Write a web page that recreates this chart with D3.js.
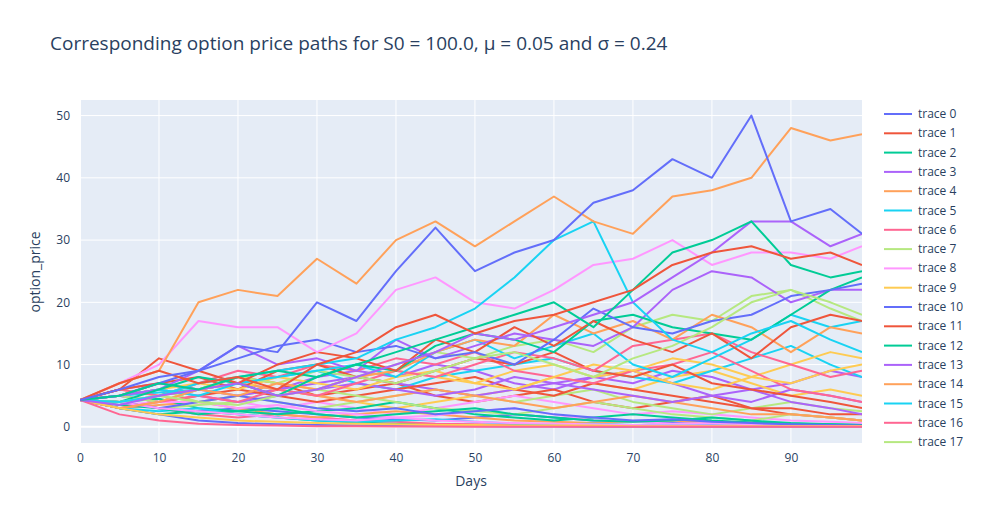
<!DOCTYPE html>
<html>
<head>
<script src="https://cdn.jsdelivr.net/npm/d3@7"></script>
<style>
  body { margin: 0; background: #fff; font-family: "Open Sans", Arial, sans-serif; }
  text { fill: #2a3f5f; }
</style>
</head>
<body>
<svg id="chart" width="985" height="525"></svg>
<script>
// sample days (every 5 days + last day)
var days = [0,5,10,15,20,25,30,35,40,45,50,55,60,65,70,75,80,85,90,95,99];

// option price paths
var traces = [
  [4.3,6,8,9,13,12,20,17,25,32,25,28,30,36,38,43,40,50,33,35,31],
  [4.3,7,9,7,8,6,10,12,16,18,15,17,18,20,22,26,28,29,27,28,26],
  [4.3,5,7,6,8,9,8,10,12,14,16,18,20,16,22,28,30,33,26,24,25],
  [4.3,3.5,5,6,7,5,6,8,10,12,15,14,16,18,20,24,28,33,33,29,31],
  [4.3,7,9,20,22,21,27,23,30,33,29,33,37,33,31,37,38,40,48,46,47],
  [4.3,4,5,7,8,9,10,11,14,16,19,24,30,33,20,14,12,15,17,14,12],
  [4.3,2,1,0.5,0.3,0.2,0.1,0.1,0.05,0.05,0,0,0,0,0,0,0,0,0,0,0],
  [4.3,4,5,4,3.5,5,6,8,7,9,11,12,10,8,11,13,16,20,22,20,18],
  [4.3,7,10,17,16,16,12,15,22,24,20,19,22,26,27,30,26,28,28,27,29],
  [4.3,3,2,1.5,1,0.8,0.6,0.5,0.4,0.3,0.3,0.2,0.2,0.2,0.1,0.1,0.1,0.1,0.1,0.1,0.1],
  [4.3,5,7,9,11,13,14,12,13,11,12,10,14,19,16,15,17,18,21,22,23],
  [4.3,6,11,9,7,10,12,11,9,14,12,16,13,17,14,12,15,11,16,18,17],
  [4.3,4,6,8,7,5,8,10,9,13,15,14,12,17,18,16,15,14,18,22,24],
  [4.3,5,6,9,13,10,11,9,14,11,13,15,14,13,16,22,25,24,20,22,22],
  [4.3,3,4,6,5,7,6,8,9,12,14,13,18,15,17,14,18,16,12,16,15],
  [4.3,5,6,5,7,8,9,10,8,12,14,11,13,15,10,8,11,14,18,16,17],
  [4.3,3,4,5,4,6,5,7,9,8,10,12,11,9,13,14,15,12,10,8,9],
  [4.3,5,4,6,8,7,9,8,10,12,11,13,14,12,16,18,17,21,22,19,17],
  [4.3,4,3,2.5,2,1.5,1.2,1,1.5,1,0.8,0.6,0.5,0.4,0.3,0.2,0.2,0.1,0.1,0.1,0.1],
  [4.3,5,6,7,6,8,7,6,8,9,7,6,8,10,9,11,10,8,7,9,10],
  [4.3,4,3,4,5,4,3,2.5,3,2,2.5,3,2,1.5,1,1.2,0.8,0.6,0.4,0.3,0.2],
  [4.3,6,7,8,6,9,10,8,7,9,11,10,12,9,8,10,7,6,5,4,3],
  [4.3,3.5,3,2,2.5,3,2,1.5,2,2.5,3,2,1.5,1,0.8,1,1.5,1,0.6,0.4,0.3],
  [4.3,5,6,5,4,5,6,7,6,5,6,8,7,6,5,4,5,6,4,3,2],
  [4.3,4,5,6,7,6,5,4,5,6,5,4,3,4,5,4,3,2,2,1.5,1],
  [4.3,3,2.5,3,2,1.5,1,0.8,1,1.2,0.8,0.5,0.4,0.5,0.3,0.2,0.2,0.1,0.1,0.1,0.1],
  [4.3,6,5,7,9,8,10,9,11,10,12,9,8,7,9,10,12,9,6,5,4],
  [4.3,4,3,3.5,4,5,6,5,4,3,2.5,2,3,4,3,2,1.5,1,2,1.5,1],
  [4.3,5,4,4,3,3.5,2.5,2,1.5,1.8,2.5,3,2,1,0.8,0.5,0.6,0.4,0.3,0.2,0.2],
  [4.3,4,5,7,8,7,6,8,9,8,7,9,10,8,9,7,6,8,10,12,11],
  [4.3,3,2,1,0.6,0.4,0.3,0.2,0.15,0.1,0.1,0.05,0.05,0,0,0,0,0,0,0,0],
  [4.3,5,4,5,6,5,4,5,6,7,8,6,5,7,6,5,4,3,3,2,2],
  [4.3,4,4.5,3,2.5,2,2.5,3,4,3,2,1.5,1,1.5,2,1.5,1,0.7,0.5,0.4,0.3],
  [4.3,6,7,6,5,6,7,8,7,6,5,6,7,8,9,7,5,4,6,5,4],
  [4.3,3,3.5,4,3,2,1.5,2,2.5,2,1.5,1,0.8,0.6,0.8,1,0.6,0.4,0.3,0.2,0.1],
  [4.3,5,5.5,6,7,8,9,7,6,8,9,10,11,9,8,7,9,11,13,10,8],
  [4.3,4,3,2,1.5,2,1.5,1,0.8,0.5,0.4,0.3,0.25,0.2,0.15,0.1,0.1,0.1,0.05,0.05,0.05],
  [4.3,5,6,4,5,4,3,4,5,6,5,4,5,6,4,3,2,3,4,3,2.5],
  [4.3,3.5,4,5,4,3,4,3,2,3,4,5,4,3,2,2.5,2,1.5,1,0.8,0.6],
  [4.3,6,5,4,5,6,5,4,3,4,5,6,8,7,6,8,9,7,5,6,5],
  [4.3,4,3,2.5,3,2.5,2,1.5,1.2,1,1.5,2,1.5,1,0.8,0.6,0.5,0.8,0.5,0.3,0.2],
  [4.3,5,7,6,8,7,5,6,7,5,4,5,6,4,3,4,5,3,2,1.5,1],
  [4.3,3,2,2.5,2,1.5,1,0.7,0.5,0.4,0.3,0.2,0.2,0.15,0.1,0.1,0.1,0.1,0.1,0.05,0.05],
  [4.3,5,4,6,7,6,8,9,8,10,9,7,6,8,7,9,8,6,7,9,8]
];

var colors = ["#636efa","#EF553B","#00cc96","#ab63fa","#FFA15A","#19d3f3","#FF6692","#B6E880","#FF97FF","#FECB52"];

var svg = d3.select("#chart");
var L = 80, R = 862, T = 100, B = 443;

var x = d3.scaleLinear().domain([0, 99]).range([L, R]);
var y = d3.scaleLinear().domain([-2.6, 52.5]).range([B, T]);

svg.append("rect").attr("x", L).attr("y", T).attr("width", R - L).attr("height", B - T).attr("fill", "#e5ecf6");

var g = svg.append("g");
[0,10,20,30,40,50,60,70,80,90].forEach(function(t) {
  g.append("line").attr("x1", x(t)).attr("x2", x(t)).attr("y1", T).attr("y2", B)
    .attr("stroke", "#fff").attr("stroke-width", t === 0 ? 2 : 1);
});
[0,10,20,30,40,50].forEach(function(t) {
  g.append("line").attr("x1", L).attr("x2", R).attr("y1", y(t)).attr("y2", y(t))
    .attr("stroke", "#fff").attr("stroke-width", t === 0 ? 2 : 1);
});

svg.append("clipPath").attr("id", "clip").append("rect")
  .attr("x", L).attr("y", T).attr("width", R - L).attr("height", B - T);

var line = d3.line().x(function(d, i) { return x(days[i]); }).y(function(d) { return y(d); });
var lines = svg.append("g").attr("clip-path", "url(#clip)");
// draw in reverse so trace 0 ends up on top
for (var i = traces.length - 1; i >= 0; i--) {
  lines.append("path").attr("d", line(traces[i])).attr("fill", "none")
    .attr("stroke", colors[i % 10]).attr("stroke-width", 2).attr("stroke-linejoin", "round");
}

var xAxis = svg.append("g").attr("transform", "translate(0," + B + ")")
  .call(d3.axisBottom(x).tickValues([0,10,20,30,40,50,60,70,80,90]).tickSize(0).tickPadding(10));
var yAxis = svg.append("g").attr("transform", "translate(" + L + ",0)")
  .call(d3.axisLeft(y).tickValues([0,10,20,30,40,50]).tickSize(0).tickPadding(10));
[xAxis, yAxis].forEach(function(a) {
  a.select(".domain").remove();
  a.selectAll("text").attr("font-size", 12).attr("font-family", "Open Sans, Arial, sans-serif").style("fill", "#2a3f5f");
});

svg.append("text").attr("x", 471).attr("y", 486).attr("text-anchor", "middle").attr("font-size", 14).text("Days");
svg.append("text").attr("transform", "translate(40,272) rotate(-90)").attr("text-anchor", "middle").attr("font-size", 14).text("option_price");
svg.append("text").attr("x", 50).attr("y", 50).attr("font-size", 19)
  .text("Corresponding option price paths for S0 = 100.0, \u03bc = 0.05 and \u03c3 = 0.24");

var leg = svg.append("g");
for (var k = 0; k < 18; k++) {
  var ly = 114 + k * 19.3;
  leg.append("line").attr("x1", 884).attr("x2", 912).attr("y1", ly).attr("y2", ly)
    .attr("stroke", colors[k % 10]).attr("stroke-width", 2);
  leg.append("text").attr("x", 918).attr("y", ly + 4).attr("font-size", 12).text("trace " + k);
}
</script>
</body>
</html>
